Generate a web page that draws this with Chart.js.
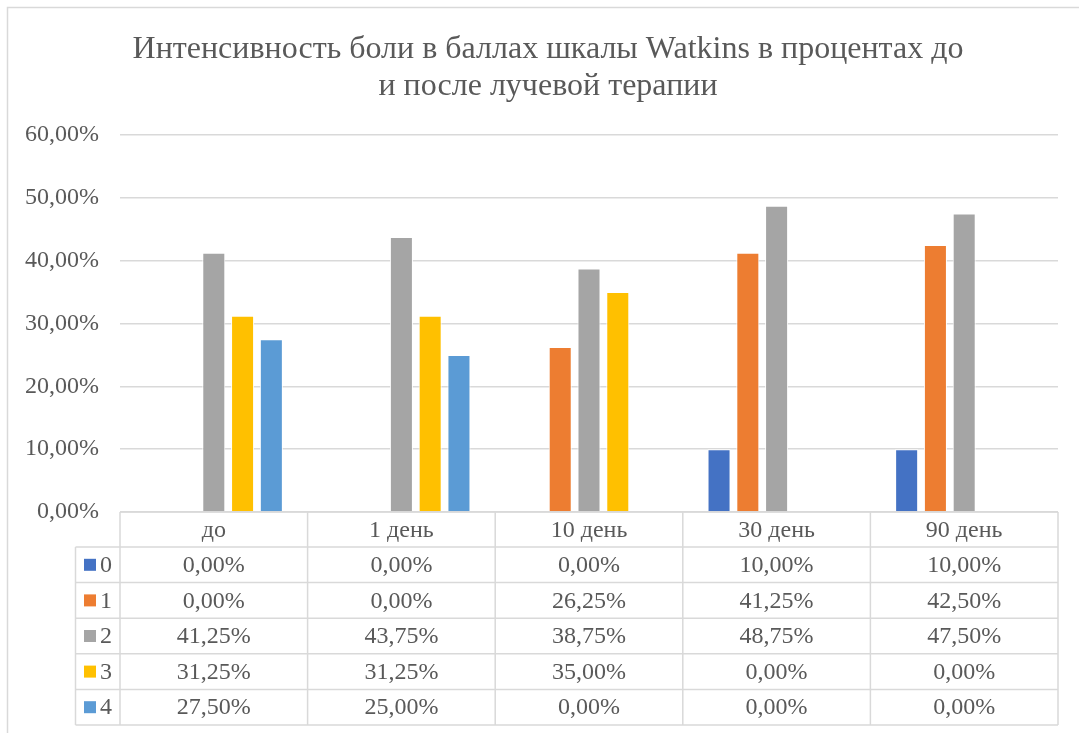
<!DOCTYPE html>
<html>
<head>
<meta charset="utf-8">
<script src="https://cdn.jsdelivr.net/npm/chart.js@4.4.1/dist/chart.umd.min.js"></script>
<style>
  html, body { margin: 0; padding: 0; background: #fff; overflow: hidden; }
  #wrap { width: 1079px; height: 733px; }
</style>
</head>
<body>
<div id="wrap"><canvas id="painChart" width="1079" height="733"></canvas></div>
<script>
const categories = ["до", "1 день", "10 день", "30 день", "90 день"];
const seriesNames = ["0", "1", "2", "3", "4"];
const score0 = [0, 0, 0, 10, 10];
const score1 = [0, 0, 26.25, 41.25, 42.5];
const score2 = [41.25, 43.75, 38.75, 48.75, 47.5];
const score3 = [31.25, 31.25, 35, 0, 0];
const score4 = [27.5, 25, 0, 0, 0];
const yTicks = [0, 10, 20, 30, 40, 50, 60];
const titleLines = ["Интенсивность боли в баллах шкалы Watkins в процентах до", "и после лучевой терапии"];

const colors = ["#4472C4", "#ED7D31", "#A5A5A5", "#FFC000", "#5B9BD5"];
const textColor = "#595959";
const lineColor = "#D9D9D9";
const font = "Liberation Serif, DejaVu Serif, serif";

function pct(v) {
  return v.toFixed(2).replace(".", ",") + "%";
}

const allSeries = [score0, score1, score2, score3, score4];

// title, frame and data table under the plot
const extras = {
  id: "extras",
  afterDraw(chart) {
    const ctx = chart.ctx;
    const area = chart.chartArea;
    const x = chart.scales.x;
    ctx.save();
    ctx.strokeStyle = lineColor;
    ctx.lineWidth = 1.5;
    ctx.strokeRect(7.5, 7.5, 1081, 740);

    ctx.fillStyle = textColor;
    ctx.font = "32px " + font;
    ctx.textAlign = "center";
    ctx.textBaseline = "alphabetic";
    ctx.fillText(titleLines[0], 548, 58);
    ctx.fillText(titleLines[1], 548, 95);

    const catW = (area.right - area.left) / categories.length;
    const headTop = area.bottom;
    const headH = 35;
    const rowH = 35.6;
    const legLeft = 75.5;
    const tableBottom = headTop + headH + rowH * seriesNames.length;

    ctx.beginPath();
    ctx.moveTo(area.left, headTop);
    ctx.lineTo(area.right, headTop);
    for (let r = 0; r <= seriesNames.length; r++) {
      const y = headTop + headH + r * rowH;
      ctx.moveTo(legLeft, y);
      ctx.lineTo(area.right, y);
    }
    for (let i = 0; i <= categories.length; i++) {
      const xx = area.left + i * catW;
      ctx.moveTo(xx, headTop);
      ctx.lineTo(xx, tableBottom);
    }
    ctx.moveTo(legLeft, headTop + headH);
    ctx.lineTo(legLeft, tableBottom);
    ctx.stroke();

    ctx.font = "24px " + font;
    ctx.textBaseline = "middle";
    ctx.textAlign = "center";
    categories.forEach((c, i) => {
      ctx.fillText(c, x.getPixelForValue(i), headTop + headH / 2 + 1);
    });
    allSeries.forEach((s, r) => {
      const yMid = headTop + headH + r * rowH + rowH / 2 + 1;
      ctx.textAlign = "center";
      s.forEach((v, i) => {
        ctx.fillText(pct(v), x.getPixelForValue(i), yMid);
      });
      ctx.fillStyle = colors[r];
      ctx.fillRect(84, yMid - 7, 12, 12);
      ctx.fillStyle = textColor;
      ctx.textAlign = "left";
      ctx.fillText(seriesNames[r], 100, yMid);
    });
    ctx.restore();
  }
};

new Chart(document.getElementById("painChart"), {
  type: "bar",
  data: {
    labels: categories,
    datasets: allSeries.map((s, i) => ({
      label: seriesNames[i],
      data: s,
      backgroundColor: colors[i],
      borderColor: "#ffffff",
      borderWidth: 1,
      categoryPercentage: 0.767,
      barPercentage: 0.8,
    })),
  },
  options: {
    responsive: false,
    animation: false,
    layout: { padding: { left: 0, right: 21, top: 135, bottom: 221 } },
    plugins: {
      legend: { display: false },
      title: { display: false },
      tooltip: { enabled: false },
    },
    scales: {
      x: { display: false },
      y: {
        min: 0,
        max: 60,
        afterFit(scale) { scale.width = 120; },
        afterBuildTicks(scale) { scale.ticks = yTicks.map((v) => ({ value: v })); },
        border: { display: false },
        grid: { color: lineColor, lineWidth: 1.5, drawTicks: false },
        ticks: {
          padding: 21,
          color: textColor,
          font: { family: font, size: 24 },
          callback: (v) => pct(v),
        },
      },
    },
  },
  plugins: [extras],
});
</script>
</body>
</html>
